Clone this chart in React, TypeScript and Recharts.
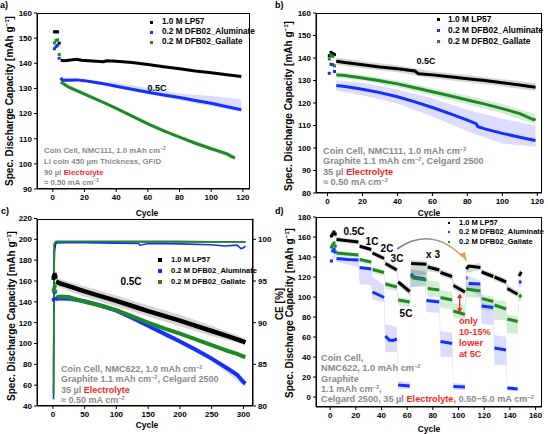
import React from 'react';
import { ComposedChart, Line, Area, Scatter, XAxis, YAxis } from 'recharts';

const FONT = '"Liberation Sans", Arial, sans-serif';
const BLACK = '#000000';
const BLUE = '#1430ff';
const GREEN = '#1f8a24';
const GREY_TXT = '#8a8a8a';
const RED = '#ff1f1f';
const BAND_K = 'rgba(0,0,0,0.16)';
const BAND_B = 'rgba(80,80,255,0.2)';
const BAND_G = 'rgba(40,160,50,0.2)';

// ---------- panel a: NMC111 / Li, 0.5C ----------
const aEarlyCyc = [1, 2, 3, 4];
const aLP57Early = [152.5, 152.5, 152.5, 148];
const aAlumEarly = [145.8, 146.6, 147.2, 142];
const aGallEarly = [148.1, 149.1, 149.3, 143.5];

const aLP57Cyc = [5, 7, 10, 15, 18, 25, 32, 34, 40, 50, 60, 70, 80, 90, 100, 110, 119];
const aLP57 = [141.2, 141, 141.2, 141.6, 141.2, 140.9, 140.6, 141, 140.8, 140.3, 139.5, 138.6, 137.8, 136.9, 136.2, 135.4, 134.7];
const aAlumCyc = [5, 6, 10, 15, 20, 30, 40, 50, 60, 70, 80, 90, 100, 110, 119];
const aAlum = [134.2, 133.3, 133.3, 133.4, 133.1, 132.1, 130.9, 129.7, 128.5, 127.4, 126.4, 125.2, 124.1, 122.7, 121.5];
const aGallCyc = [5, 10, 15, 20, 30, 40, 50, 60, 70, 80, 90, 100, 110, 112, 115];
const aGall = [132.6, 130.5, 129.1, 127.7, 125, 122.1, 119, 115.9, 113.1, 110.6, 108.2, 106, 104, 103.2, 102.3];

const aBandCyc = [5, 20, 40, 60, 80, 100, 119];
const aAlumLo = [133.8, 132.6, 130.2, 127.8, 125.3, 122.9, 120.8];
const aAlumHi = [134.6, 133.6, 132.3, 130.2, 128, 127, 125.7];
const aGallBandCyc = [5, 40, 80, 115];
const aGallLo = [132, 121.5, 110, 101.6];
const aGallHi = [133.2, 122.7, 111.2, 103.6];

// ---------- panel b: NMC111 / graphite, 0.5C ----------
const bEarlyCyc = [1, 2, 3, 4];
const bLP57Early = [141, 142.5, 142, 141.5];
const bAlumEarly = [133.2, 137.2, 137, 134];
const bGallEarly = [139.6, 141.4, 140.7, 136.5];

const bLP57Cyc = [5, 10, 20, 30, 40, 50, 52, 60, 70, 80, 90, 100, 110, 119];
const bLP57 = [138.6, 138, 137, 136, 135.2, 134.2, 133, 132.5, 131.7, 130.8, 130, 129, 128, 127];
const bAlumCyc = [5, 10, 20, 30, 40, 50, 60, 70, 80, 85, 86, 90, 100, 110, 119];
const bAlum = [127.8, 127.3, 126.1, 124.6, 122.8, 120.5, 118, 115.3, 112.4, 110.8, 109.5, 108.5, 106.5, 104.8, 103.3];
const bGallCyc = [5, 10, 20, 30, 40, 50, 60, 70, 80, 90, 100, 110, 118, 119];
const bGall = [132.5, 132.2, 131.1, 129.9, 128.5, 126.8, 125, 123.2, 121.3, 119.5, 117.5, 115.3, 112.5, 113];

const bBandCyc = [5, 20, 40, 60, 80, 100, 119];
const bLP57Lo = [137, 135.5, 133.7, 131, 129.2, 127.4, 125.3];
const bLP57Hi = [140.2, 138.6, 136.8, 134, 132.5, 130.6, 128.8];
const bAlumLo = [125.5, 123.5, 119.8, 114, 107.5, 102, 100.6];
const bAlumHi = [130, 129, 126, 122, 117, 113, 110];
const bGallLo = [131.2, 130, 127, 123.3, 119.5, 115.5, 110.5];
const bGallHi = [133.8, 132.4, 130, 126.7, 123.2, 119.6, 115];

// ---------- panel c: NMC622 / graphite, 300 cycles ----------
const cEarlyCyc = [1, 2, 3, 4];
const cLP57Early = [163, 165, 166, 164];
const cAlumEarly = [142, 150, 149, 143];
const cGallEarly = [151, 153, 155, 150];

const cCyc = [5, 10, 25, 50, 75, 100, 125, 150, 175, 200, 225, 250, 275, 290, 300, 303];
const cLP57 = [159.5, 158, 155, 150, 145.5, 141, 136, 131, 126.5, 122, 117, 112, 107, 104, 101.8, 101];
const cAlum = [142.5, 143.5, 143.3, 140.5, 136.5, 131.5, 124.5, 117, 109.5, 102, 94, 85.5, 76, 70, 63, 61.5];
const cGall = [144, 145, 144.6, 140, 136.5, 132, 126, 120, 114.5, 109.5, 104, 98.5, 93, 90, 87.5, 87];

const cBandCyc = [5, 50, 100, 150, 200, 250, 303];
const cLP57Lo = [155, 145, 135.5, 126, 116.5, 107, 98.5];
const cLP57Hi = [163, 155, 146, 136.5, 127.5, 117, 105];
const cAlumLo = [141, 139, 130, 115, 100, 83, 58];
const cAlumHi = [144, 142, 133, 119, 104, 88, 65];
const cGallLo = [142.5, 138.5, 130.5, 118.5, 108, 96.5, 85];
const cGallHi = [145.5, 141.5, 133.5, 121.5, 111, 100, 89.5];

const ceCyc = [1, 2, 3, 5, 50, 100, 150, 200, 250, 303];
const ceLP57 = [85.5, 96, 98.8, 99.6, 99.7, 99.7, 99.7, 99.7, 99.7, 99.7];
const ceGall = [81.4, 99.4, 99.6, 99.75, 99.75, 99.75, 99.75, 99.75, 99.7, 99.7];
const ceAlumCyc = [1, 2, 3, 5, 50, 100, 135, 137, 150, 200, 250, 270, 290, 296, 300, 303];
const ceAlum = [80.8, 98.5, 99.3, 99.6, 99.6, 99.55, 99.5, 99.3, 99.5, 99.45, 99.35, 99.2, 99.3, 98.9, 99, 99.2];

// ---------- panel d: rate test (blocks, null = gap) ----------
const dEarlyCyc = [1, 2, 3, 4];
const dLP57Early = [161, 163, 165, 163];
const dAlumEarly = [136, 146, 148, 145];
const dGallEarly = [150, 152, 154, 151];

const dLP57: [number, number | null][] = [
  [5, 157.5], [12, 156.5], [22, 155], [22.5, null],
  [23, 150.7], [32, 147.5], [32.5, null],
  [33, 144], [42, 138.5], [42.5, null],
  [43, 133.5], [52, 127], [52.5, null],
  [53, 115], [62, 105.5], [62.5, null],
  [63, 133.5], [75, 132.8], [75.5, null],
  [76, 130], [85, 127], [85.5, null],
  [86, 124.5], [95, 120.5], [95.5, null],
  [96, 111.5], [105, 105], [105.5, null],
  [106, 128], [108, 131], [117, 129.5], [117.5, null],
  [118, 125], [127, 120.5], [127.5, null],
  [128, 120], [137, 115], [137.5, null],
  [138, 108.5], [146, 102.8], [146.5, null],
  [147, 121], [149, 125],
];
const dAlum: [number, number | null][] = [
  [5, 138.5], [14, 137.5], [22, 137], [22.5, null],
  [23, 129.5], [32, 128], [32.5, null],
  [33, 105], [38, 102], [42, 99.5], [42.5, null],
  [43, 61], [46, 57], [49, 56.5], [52, 58], [52.5, null],
  [53, 12], [62, 11], [62.5, null],
  [63, 123], [65, 120], [74, 118], [74.5, null],
  [75, 96.5], [85, 95], [85.5, null],
  [86, 55.5], [95, 53.5], [95.5, null],
  [96, 10.5], [105, 10], [105.5, null],
  [106, 119], [107, 119], [107.5, null],
  [108, 113.5], [117, 113], [117.5, null],
  [118, 91], [127, 89.5], [127.5, null],
  [128, 49], [137, 47], [137.5, null],
  [138, 9], [146, 8], [146.5, null],
  [147, 115], [149, 115],
];
const dGall: [number, number | null][] = [
  [5, 144], [22, 142], [22.5, null],
  [23, 137.5], [32, 135], [32.5, null],
  [33, 127.5], [42, 124.5], [42.5, null],
  [43, 113], [52, 110], [52.5, null],
  [53, 97], [62, 95], [62.5, null],
  [63, 121], [65, 119], [75, 117], [75.5, null],
  [76, 108.5], [85, 107], [85.5, null],
  [86, 99.5], [95, 97], [95.5, null],
  [96, 86], [105, 82.5], [105.5, null],
  [106, 108], [117, 106], [117.5, null],
  [118, 98.5], [127, 95.5], [127.5, null],
  [128, 92], [137, 88], [137.5, null],
  [138, 78], [146, 75.5], [146.5, null],
  [147, 100], [149, 102],
];

const dLP57Band: [number, number, number][] = [
  [1, 160, 166], [4, 160, 166], [5, 155, 160], [22, 152.5, 157.5], [23, 148.5, 153], [32, 145, 150],
  [33, 141.5, 146.5], [42, 136, 141], [43, 130.5, 136.5], [52, 124, 130], [53, 111, 118], [62, 102, 109],
  [63, 122, 137], [75, 122, 136], [76, 126, 133], [85, 124, 130], [86, 121, 128], [95, 117.5, 123.5],
  [96, 107.5, 115], [105, 102, 108], [106, 124, 132], [117, 127, 134], [118, 122, 128], [127, 118, 124],
  [128, 116.5, 123], [137, 112, 118.5], [138, 105, 112], [146, 100, 106], [147, 119, 126], [149, 121, 128],
];
const dAlumBand: [number, number, number][] = [
  [1, 134, 138], [4, 140, 150], [5, 135, 140], [22, 130, 139], [23, 113, 131], [32, 112, 130],
  [33, 97, 120], [42, 95, 112], [43, 45, 73], [52, 45, 70], [53, 8, 16], [62, 8, 15],
  [63, 110, 127], [74, 112, 125], [75, 85, 99], [85, 84, 98], [86, 40, 66], [95, 40, 64],
  [96, 7, 14], [105, 7, 13], [106, 108, 122], [117, 100, 116], [118, 73, 95], [127, 72, 93],
  [128, 32, 62], [137, 32, 60], [138, 6, 11], [146, 6, 10], [147, 110, 118], [149, 110, 118],
];
const dGallBand: [number, number, number][] = [
  [1, 147, 155], [4, 147, 155], [5, 141, 146], [22, 139.5, 144], [23, 134, 139], [32, 132, 137],
  [33, 124, 130], [42, 121, 127], [43, 108, 116], [52, 106, 113], [53, 92, 100], [62, 90, 98],
  [63, 110, 128], [75, 110, 126], [76, 100, 117], [85, 100, 115], [86, 89, 107], [95, 88, 105],
  [96, 79, 94], [105, 78, 92], [106, 100, 114], [117, 99, 113], [118, 87, 102], [127, 86, 101],
  [128, 77, 97], [137, 77, 96], [138, 64, 82], [146, 63, 81], [147, 95, 104], [149, 96, 105],
];

// tick labels
const aXTicks = [0, 20, 40, 60, 80, 100, 120];
const aYTicks = [90, 100, 110, 120, 130, 140, 150, 160];
const bYTicks = [80, 90, 100, 110, 120, 130, 140, 150, 160];
const cXTicks = [0, 50, 100, 150, 200, 250, 300];
const cYTicks = [40, 60, 80, 100, 120, 140, 160, 180, 200, 220];
const cCETicks = [80, 85, 90, 95, 100];
const dXTicks = [0, 20, 40, 60, 80, 100, 120, 140, 160];
const dYTicks = [0, 20, 40, 60, 80, 100, 120, 140, 160, 180];

const pts = (cyc: number[], v: number[]) => cyc.map((c, i) => ({ c, v: v[i] }));
const band = (cyc: number[], lo: number[], hi: number[]) => cyc.map((c, i) => ({ c, r: [lo[i], hi[i]] }));
const tup = (t: [number, number | null][]) => t.map(([c, v]) => ({ c, v }));
const tband = (t: [number, number, number][]) => t.map(([c, lo, hi]) => ({ c, r: [lo, hi] }));

const tick = { fontSize: 8, fontWeight: 700, fill: '#000', fontFamily: FONT };
const W = 274;
const H = 217;

const sq = (color: string, s: number) => (p: any) =>
  <rect x={p.cx - s / 2} y={p.cy - s / 2} width={s} height={s} fill={color} />;

const Sup = ({ children }: { children: React.ReactNode }) => (
  <span style={{ fontSize: '0.62em', position: 'relative', top: '-0.6em' }}>{children}</span>
);

const Txt = ({ x, y, size = 8, color = '#000', center = false, children }: any) => (
  <div style={{
    position: 'absolute', left: x, top: y, fontSize: size, color, fontFamily: FONT, fontWeight: 700,
    lineHeight: 1, whiteSpace: 'nowrap', transform: center ? 'translate(-50%,-50%)' : 'translateY(-50%)',
  }}>{children}</div>
);

const VTxt = ({ x, y, size = 10, children }: any) => (
  <div style={{
    position: 'absolute', left: x, top: y, fontSize: size, fontFamily: FONT, fontWeight: 700, lineHeight: 1,
    whiteSpace: 'nowrap', transform: 'translate(-50%,-50%) rotate(-90deg)',
  }}>{children}</div>
);

const Legend = ({ x, tx, rows, size, s }: any) => (
  <>
    {[['1.0 M LP57', BLACK], ['0.2 M DFB02_Aluminate', BLUE], ['0.2 M DFB02_Gallate', GREEN]].map(([l, col], i) => (
      <React.Fragment key={l}>
        <div style={{ position: 'absolute', left: x - s / 2, top: rows[i] - s / 2, width: s, height: s, background: col }} />
        <Txt x={tx} y={rows[i]} size={size}>{l}</Txt>
      </React.Fragment>
    ))}
  </>
);

const Frame = ({ left, top, pl, pt, pr, pb }: any) => (
  <div style={{
    position: 'absolute', left: left + pl, top: top + pt, width: pr - pl, height: pb - pt,
    border: '1px solid #000', boxSizing: 'border-box', pointerEvents: 'none',
  }} />
);

const xAx = (domain: number[], ticks: number[], h: number) => (
  <XAxis type="number" dataKey="c" domain={domain} ticks={ticks} allowDataOverflow height={h}
    tick={tick} tickSize={3} interval={0} axisLine={{ stroke: '#000' }} tickLine={{ stroke: '#000' }} />
);
const yAx = (domain: number[], ticks: number[], w: number, id = 'l', orient: 'left' | 'right' = 'left') => (
  <YAxis yAxisId={id} orientation={orient} type="number" dataKey="v" domain={domain} ticks={ticks} allowDataOverflow width={w}
    tick={tick} tickSize={3} interval={0} axisLine={{ stroke: '#000' }} tickLine={{ stroke: '#000' }} />
);

const bandArea = (data: any[], fill: string, id = 'l') => (
  <Area yAxisId={id} data={data} dataKey="r" type="linear" fill={fill} fillOpacity={1} stroke="none" isAnimationActive={false} />
);
const line = (data: any[], color: string, w: number, id = 'l') => (
  <Line yAxisId={id} data={data} dataKey="v" type="linear" stroke={color} strokeWidth={w} dot={false} isAnimationActive={false} />
);
const early = (data: any[], color: string, s: number) => (
  <Scatter yAxisId="l" data={data} dataKey="v" shape={sq(color, s)} isAnimationActive={false} />
);

function PanelA() {
  return (
    <div style={{ position: 'absolute', left: 0, top: 0 }}>
      <ComposedChart width={W} height={H} margin={{ top: 13, right: 24, left: 0, bottom: 0 }}>
        {xAx([-10, 124.5], aXTicks, 28)}
        {yAx([90, 160], aYTicks, 37)}
        {bandArea(band(aBandCyc, aAlumLo, aAlumHi), BAND_B)}
        {bandArea(band(aGallBandCyc, aGallLo, aGallHi), BAND_G)}
        {line(pts(aLP57Cyc, aLP57), BLACK, 3)}
        {line(pts(aAlumCyc, aAlum), BLUE, 3)}
        {line(pts(aGallCyc, aGall), GREEN, 3)}
        {early(pts(aEarlyCyc, aLP57Early), BLACK, 3)}
        {early(pts(aEarlyCyc, aAlumEarly), BLUE, 3)}
        {early(pts(aEarlyCyc, aGallEarly), GREEN, 3)}
      </ComposedChart>
    </div>
  );
}

function PanelB() {
  return (
    <div style={{ position: 'absolute', left: 274, top: 0 }}>
      <ComposedChart width={W} height={H} margin={{ top: 13, right: 6, left: 0, bottom: 0 }}>
        {xAx([-6.6, 122.7], aXTicks, 24)}
        {yAx([80, 160], bYTicks, 42)}
        {bandArea(band(bBandCyc, bLP57Lo, bLP57Hi), BAND_K)}
        {bandArea(band(bBandCyc, bAlumLo, bAlumHi), BAND_B)}
        {bandArea(band(bBandCyc, bGallLo, bGallHi), BAND_G)}
        {line(pts(bLP57Cyc, bLP57), BLACK, 3)}
        {line(pts(bAlumCyc, bAlum), BLUE, 3)}
        {line(pts(bGallCyc, bGall), GREEN, 3)}
        {early(pts(bEarlyCyc, bLP57Early), BLACK, 3)}
        {early(pts(bEarlyCyc, bAlumEarly), BLUE, 3)}
        {early(pts(bEarlyCyc, bGallEarly), GREEN, 3)}
      </ComposedChart>
    </div>
  );
}

// panels c and d start 10 px higher so their top tick labels are not clipped
function PanelC() {
  return (
    <div style={{ position: 'absolute', left: 0, top: 207 }}>
      <ComposedChart width={W} height={H + 10} margin={{ top: 11.5, right: 0, left: 0, bottom: 0 }}>
        {xAx([-25, 315], cXTicks, 28)}
        {yAx([40, 220], cYTicks, 37)}
        {yAx([80, 102.5], cCETicks, 21, 'r', 'right')}
        {bandArea(band(cBandCyc, cLP57Lo, cLP57Hi), BAND_K)}
        {bandArea(band(cBandCyc, cAlumLo, cAlumHi), BAND_B)}
        {bandArea(band(cBandCyc, cGallLo, cGallHi), BAND_G)}
        {line(pts(ceCyc, ceLP57), BLACK, 1.2, 'r')}
        {line(pts(ceAlumCyc, ceAlum), BLUE, 1.6, 'r')}
        {line(pts(ceCyc, ceGall), GREEN, 1.8, 'r')}
        {line(pts(cCyc, cLP57), BLACK, 4.5)}
        {line(pts(cCyc, cAlum), BLUE, 4)}
        {line(pts(cCyc, cGall), GREEN, 4)}
        {early(pts(cEarlyCyc, cLP57Early), BLACK, 4)}
        {early(pts(cEarlyCyc, cAlumEarly), BLUE, 3.5)}
        {early(pts(cEarlyCyc, cGallEarly), GREEN, 3.5)}
      </ComposedChart>
    </div>
  );
}

function PanelD() {
  return (
    <div style={{ position: 'absolute', left: 274, top: 207 }}>
      <ComposedChart width={W} height={H + 10} margin={{ top: 10, right: 6, left: 0, bottom: 0 }}>
        {xAx([-11, 165], dXTicks, 27)}
        {yAx([-10, 180], dYTicks, 42)}
        {bandArea(tband(dLP57Band), BAND_K)}
        {bandArea(tband(dAlumBand), BAND_B)}
        {bandArea(tband(dGallBand), BAND_G)}
        {line(tup(dLP57), BLACK, 3)}
        {line(tup(dAlum), BLUE, 3)}
        {line(tup(dGall), GREEN, 3)}
        {early(pts(dEarlyCyc, dLP57Early), BLACK, 3)}
        {early(pts(dEarlyCyc, dAlumEarly), BLUE, 3)}
        {early(pts(dEarlyCyc, dGallEarly), GREEN, 3)}
      </ComposedChart>
    </div>
  );
}

const yLabel = <>Spec. Discharge Capacity [mAh g<Sup>−1</Sup>]</>;
const cm2 = <>cm<Sup>−2</Sup></>;

export default function App() {
  return (
    <div style={{ position: 'absolute', left: 0, top: 0, width: 548, height: 434, background: '#fff', overflow: 'hidden', fontFamily: FONT }}>
      <PanelA />
      <PanelB />
      <PanelC />
      <PanelD />
      <Frame left={0} top={0} pl={37} pt={13} pr={250} pb={189} />
      <Frame left={274} top={0} pl={42} pt={13} pr={268} pb={193} />
      <Frame left={0} top={217} pl={37} pt={1.5} pr={253} pb={189} />
      <Frame left={274} top={217} pl={42} pt={0} pr={268} pb={190} />

      {/* panel letters */}
      <Txt x={0} y={5} size={9}>a)</Txt>
      <Txt x={275} y={5} size={9}>b)</Txt>
      <Txt x={1} y={211} size={9}>c)</Txt>
      <Txt x={275} y={211} size={9}>d)</Txt>

      {/* axis titles */}
      <VTxt x={10} y={101}>{yLabel}</VTxt>
      <VTxt x={289} y={106}>{yLabel}</VTxt>
      <VTxt x={12} y={316}>{yLabel}</VTxt>
      <VTxt x={280} y={304}>CE [%]</VTxt>
      <VTxt x={290} y={313}>{yLabel}</VTxt>
      <Txt x={147} y={213} size={8.5} center>Cycle</Txt>
      <Txt x={429} y={213} size={8.5} center>Cycle</Txt>
      <Txt x={147} y={425} size={8.5} center>Cycle</Txt>
      <Txt x={429} y={429} size={8.5} center>Cycle</Txt>

      {/* legends */}
      <Legend x={151} tx={162} rows={[22, 32, 42]} size={8.2} s={3} />
      <Legend x={438} tx={448} rows={[19, 30, 41]} size={8.4} s={3} />
      <Legend x={160} tx={171} rows={[260, 271, 282]} size={7.6} s={4} />
      <Legend x={449} tx={459} rows={[223, 232, 242]} size={7.5} s={2.5} />

      {/* rate labels */}
      <Txt x={157} y={87.5} size={9} center>0.5C</Txt>
      <Txt x={426} y={61} size={9} center>0.5C</Txt>
      <Txt x={131} y={282} size={10} center>0.5C</Txt>
      <Txt x={354} y={232} size={10} center>0.5C</Txt>
      <Txt x={372} y={242} size={10} center>1C</Txt>
      <Txt x={387} y={249} size={10} center>2C</Txt>
      <Txt x={397} y={259} size={10} center>3C</Txt>
      <Txt x={406} y={314} size={10} center>5C</Txt>
      <Txt x={433} y={255} size={10} center>x 3</Txt>

      {/* cell annotations */}
      <Txt x={44} y={151} size={7.8} color={GREY_TXT}>Coin Cell, NMC111, 1.0 mAh {cm2}</Txt>
      <Txt x={44} y={162} size={7.8} color={GREY_TXT}>Li coin 450 µm Thickness, GF/D</Txt>
      <Txt x={44} y={173} size={7.8} color={GREY_TXT}>90 µl <span style={{ color: RED }}>Electrolyte</span></Txt>
      <Txt x={44} y={183} size={7.8} color={GREY_TXT}>≈ 0.50 mA {cm2}</Txt>

      <Txt x={323} y={152} size={9.2} color={GREY_TXT}>Coin Cell, NMC111, 1.0 mAh {cm2}</Txt>
      <Txt x={323} y={162} size={9.2} color={GREY_TXT}>Graphite 1.1 mAh {cm2}, Celgard 2500</Txt>
      <Txt x={323} y={173} size={9.2} color={GREY_TXT}>35 µl <span style={{ color: RED }}>Electrolyte</span></Txt>
      <Txt x={323} y={183} size={9.2} color={GREY_TXT}>≈ 0.50 mA {cm2}</Txt>

      <Txt x={61} y={369} size={9} color={GREY_TXT}>Coin Cell, NMC622, 1.0 mAh {cm2}</Txt>
      <Txt x={61} y={379} size={9} color={GREY_TXT}>Graphite 1.1 mAh {cm2}, Celgard 2500</Txt>
      <Txt x={61} y={390} size={9} color={GREY_TXT}>35 µl <span style={{ color: RED }}>Electrolyte</span></Txt>
      <Txt x={61} y={400} size={9} color={GREY_TXT}>≈ 0.50 mA {cm2}</Txt>

      <Txt x={321} y={359} size={9.2} color={GREY_TXT}>Coin Cell,</Txt>
      <Txt x={321} y={369} size={9.2} color={GREY_TXT}>NMC622, 1.0 mAh {cm2}</Txt>
      <Txt x={321} y={380} size={9.2} color={GREY_TXT}>Graphite</Txt>
      <Txt x={321} y={390} size={9.2} color={GREY_TXT}>1.1 mAh {cm2},</Txt>
      <Txt x={321} y={400} size={9.2} color={GREY_TXT}>Celgard 2500, 35 µl <span style={{ color: RED }}>Electrolyte,</span> 0.50−5.0 mA {cm2}</Txt>

      {/* red note */}
      <Txt x={459} y={322} size={9.2} color={RED}>only</Txt>
      <Txt x={459} y={333} size={9.2} color={RED}>10-15%</Txt>
      <Txt x={459} y={344} size={9.2} color={RED}>lower</Txt>
      <Txt x={459} y={355} size={9.2} color={RED}>at 5C</Txt>

      <svg width={548} height={434} style={{ position: 'absolute', left: 0, top: 0, pointerEvents: 'none' }}>
        <defs>
          <linearGradient id="arc" x1="0" x2="1" y1="0" y2="0">
            <stop offset="0" stopColor="#5b7fb8" />
            <stop offset="1" stopColor="#e49a5a" />
          </linearGradient>
        </defs>
        <path d="M 397 249 Q 431 225 463 257" fill="none" stroke="url(#arc)" strokeWidth={1.6} />
        <path d="M 460 254 L 467 262 L 465 252 Z" fill="#e49a5a" />
        <line x1={459.7} y1={297} x2={459.7} y2={309} stroke={RED} strokeWidth={1.3} />
        <path d="M 457.2 298 L 459.7 293.5 L 462.2 298 Z" fill={RED} />
        <path d="M 457.2 308 L 459.7 312.5 L 462.2 308 Z" fill={RED} />
      </svg>
    </div>
  );
}
